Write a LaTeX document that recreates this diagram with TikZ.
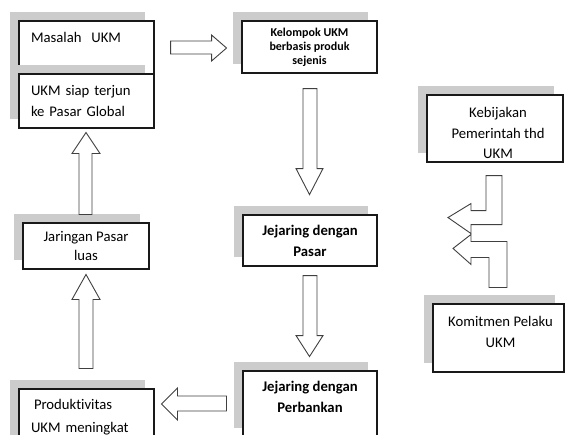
\documentclass[tikz,border=0pt]{standalone}
\usepackage{fontspec}
\setmainfont{Carlito}[Ligatures=NoCommon]
\usepackage{tikz}
\usetikzlibrary{calc,shadows}
\definecolor{shadowgray}{RGB}{204,204,204}
\tikzset{%
	ukmbox/.style   = {draw=black!90, fill=white, line width=1.1pt, inner sep=0pt, general shadow={fill=shadowgray, shadow xshift=-9pt, shadow yshift=9pt}, font=\fontsize{14.7}{21}\selectfont},
	ukmtext/.style  = {inner sep=0pt, font=\fontsize{14.7}{21}\selectfont, align=center},
	ukmbold/.style  = {inner sep=0pt, font=\fontsize{14.7}{21}\selectfont\bfseries, align=center},
	blockarr/.style = {draw=black!75, line width=0.9pt, fill=white, line join=miter},
}

\begin{document}
\begin{tikzpicture}[x=1pt,y=-1pt]
	\useasboundingbox (0,0) rectangle (565,434);
	\node[ukmbox, minimum width=135, minimum height=53, text width=111, align=left] (masalah) at (86.5,47.5) {Masalah~~UKM\\\mbox{}};
	\node[ukmbox, minimum width=135, minimum height=54, text width=111, align=left] (siap) at (86.5,101) {UKM siap terjun\\ke Pasar Global};
	\node[ukmbox, minimum width=135, minimum height=52, align=center, font=\fontsize{12}{14}\selectfont\bfseries] (kelompok) at (309.5,47) {Kelompok UKM\\berbasis produk\\sejenis};
	\node[ukmbox, minimum width=134, minimum height=51, align=center, font=\fontsize{14.7}{21}\selectfont\bfseries] (pasar) at (310,240.5) {Jejaring dengan\\Pasar};
	\node[ukmbox, minimum width=134, minimum height=66] (perbankan) at (310,404) {};
	\node[ukmbold] at ($(perbankan.center)+(0,-7)$) {Jejaring dengan\\Perbankan};
	\node[ukmbox, minimum width=126, minimum height=46, align=center, font=\fontsize{14.7}{19}\selectfont] (jaringan) at (86,246) {Jaringan Pasar\\luas};
	\node[ukmbox, minimum width=135, minimum height=57, text width=111, align=left, font=\fontsize{14.7}{23}\selectfont] (produktivitas) at (86.5,417.5) {\hspace{3pt}Produktivitas\\UKM meningkat};
	\node[ukmbox, minimum width=136, minimum height=67] (kebijakan) at (495,128.5) {};
	\begin{scope}
		\clip (kebijakan.north west) rectangle ($(kebijakan.south east)+(0,-0.6)$);
		\node[ukmtext, font=\fontsize{14.7}{20.5}\selectfont] at ($(kebijakan.center)+(3,4.5)$) {Kebijakan\\Pemerintah thd\\UKM};
	\end{scope}
	\node[ukmbox, minimum width=131, minimum height=68] (komitmen) at (498.5,338) {};
	\node[ukmtext] at ($(komitmen.center)+(2,-6.5)$) {Komitmen Pelaku\\UKM};

	\draw[blockarr] ($(masalah.east)+(16,-6.5)$) -- ++(41,0) -- ++(0,-6) -- ++(15,13) -- ++(-15,13) -- ++(0,-7) -- ++(-41,0) -- cycle;
	\draw[blockarr] ($(kelompok.south)+(-6.5,15)$) -- ++(14,0) -- ++(0,80) -- ++(6,0) -- ++(-13.5,26) -- ++(-13.5,-26) -- ++(7,0) -- cycle;
	\draw[blockarr] ($(pasar.south)+(-7,9)$) -- ++(14,0) -- ++(0,60) -- ++(6,0) -- ++(-13.5,21) -- ++(-13.5,-21) -- ++(7,0) -- cycle;
	\draw[blockarr] ($(perbankan.west)+(-16,-8)$) -- ++(-49,0) -- ++(0,-8) -- ++(-16,16) -- ++(16,16) -- ++(0,-9) -- ++(49,0) -- cycle;
	\draw[blockarr] ($(produktivitas.north)+(-7.5,-20)$) -- ++(14,0) -- ++(0,-69) -- ++(7,0) -- ++(-14,-25) -- ++(-14,25) -- ++(7,0) -- cycle;
	\draw[blockarr] ($(jaringan.north)+(-7,-8)$) -- ++(13,0) -- ++(0,-61) -- ++(8,0) -- ++(-14,-21) -- ++(-14,21) -- ++(7,0) -- cycle;
	\draw[blockarr] ($(kebijakan.south)+(-9,13)$) -- ++(16,0) -- ++(0,49) -- ++(-31,0) -- ++(0,9) -- ++(-23,-16) -- ++(23,-14) -- ++(0,7) -- ++(15,0) -- cycle;
	\draw[blockarr] ($(komitmen.north)+(-9.5,-16)$) -- ++(0,-30) -- ++(-18,0) -- ++(0,7) -- ++(-18,-16) -- ++(18,-14) -- ++(0,7) -- ++(36,0) -- ++(0,46) -- cycle;
\end{tikzpicture}
\end{document}
